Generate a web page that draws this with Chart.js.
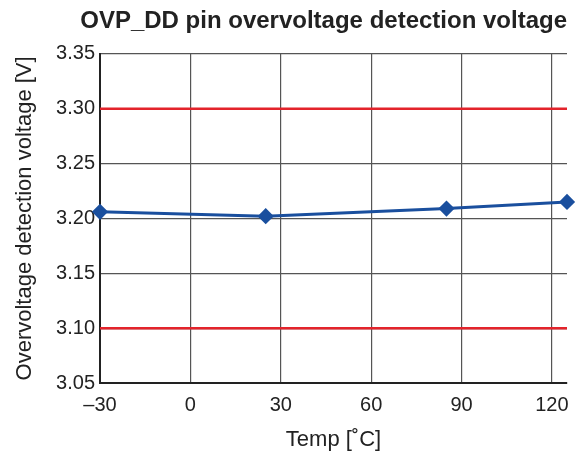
<!DOCTYPE html>
<html>
<head>
<meta charset="utf-8">
<script src="https://cdn.jsdelivr.net/npm/chart.js@4.4.1/dist/chart.umd.min.js"></script>
<style>
  html, body { margin: 0; padding: 0; background: #fff; }
  #wrap { width: 583px; height: 453px; }
</style>
</head>
<body>
<div id="wrap"><canvas id="ovpChart"></canvas></div>
<script>
// measured points: temperature [°C] vs detection voltage [V]
const temps = [-30, 25, 85, 125];
const volts = [3.206, 3.202, 3.209, 3.215];

// spec limit lines
const limitX = [-30, 125];
const upperLimit = 3.30;
const lowerLimit = 3.10;

const xTicks = [-30, 0, 30, 60, 90, 120];
const yTicks = [3.05, 3.10, 3.15, 3.20, 3.25, 3.30, 3.35];

const FONT = "'Liberation Sans', Arial, Helvetica, sans-serif";

function pts(xs, ys) {
  return xs.map((x, i) => ({ x: x, y: ys[i] }));
}

const ctx = document.getElementById("ovpChart").getContext('2d');
new Chart(ctx, {
  type: 'scatter',
  data: {
    datasets: [
      {
        label: "OVP_DD",
        data: pts(temps, volts),
        showLine: true,
        borderColor: "#1a4f9e",
        backgroundColor: "#1a4f9e",
        borderWidth: 3,
        pointStyle: 'rectRot',
        pointRadius: 6,
        clip: false
      },
      {
        label: "max",
        data: pts(limitX, [upperLimit, upperLimit]),
        showLine: true,
        borderColor: "#e3232b",
        borderWidth: 2.5,
        pointRadius: 0
      },
      {
        label: "min",
        data: pts(limitX, [lowerLimit, lowerLimit]),
        showLine: true,
        borderColor: "#e3232b",
        borderWidth: 2.5,
        pointRadius: 0
      }
    ]
  },
  options: {
    responsive: true,
    maintainAspectRatio: false,
    animation: false,
    layout: { padding: { left: 0, right: 16, top: 0, bottom: 0 } },
    plugins: {
      legend: { display: false },
      tooltip: { enabled: false },
      title: {
        display: true,
        text: "OVP_DD pin overvoltage detection voltage",
        align: 'end',
        color: "#222",
        font: { family: FONT, size: 24, weight: 'bold' },
        padding: { top: 7, bottom: 18 }
      }
    },
    scales: {
      x: {
        type: 'linear',
        min: -30,
        max: 125,
        afterBuildTicks: s => { s.ticks = xTicks.map(v => ({ value: v })); },
        afterFit: s => { s.height = 70; },
        grid: { color: "#555", lineWidth: 1.2, drawTicks: false },
        border: { color: "#222", width: 2 },
        ticks: {
          color: "#222",
          padding: 10,
          maxRotation: 0,
          font: { family: FONT, size: 20 },
          callback: v => String(v).replace('-', '\u2013')
        },
        title: {
          display: true,
          text: "Temp [\u02daC]",
          color: "#222",
          font: { family: FONT, size: 22 },
          padding: { top: 8, bottom: 0 }
        }
      },
      y: {
        type: 'linear',
        min: 3.05,
        max: 3.35,
        afterBuildTicks: s => { s.ticks = yTicks.map(v => ({ value: v })); },
        afterFit: s => { s.width = 100; },
        grid: { color: "#555", lineWidth: 1.2, drawTicks: false },
        border: { color: "#222", width: 2 },
        ticks: {
          color: "#222",
          padding: 5,
          font: { family: FONT, size: 20 },
          callback: v => v.toFixed(2)
        },
        title: {
          display: true,
          text: "Overvoltage detection voltage [V]",
          color: "#222",
          font: { family: FONT, size: 22 },
          padding: { top: 12, bottom: 0 }
        }
      }
    }
  }
});
</script>
</body>
</html>
